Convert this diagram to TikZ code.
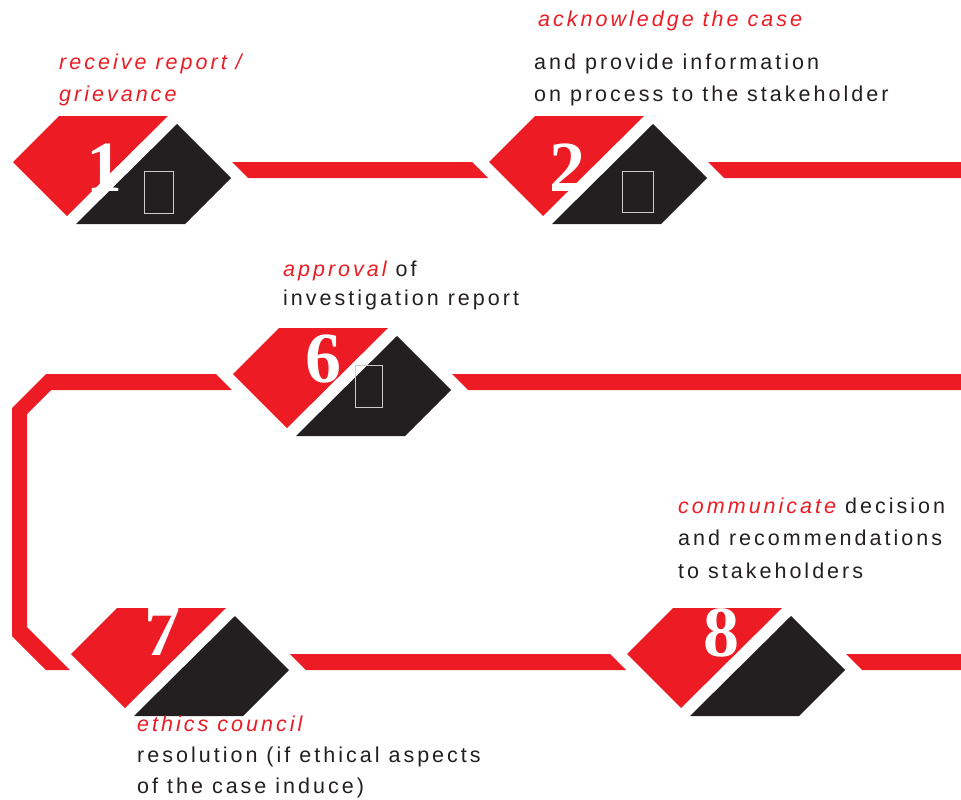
\documentclass[tikz,border=0pt]{standalone}
\usepackage{fontspec}
\setmainfont{Liberation Sans}[LetterSpace=14]
\newfontfamily\numfont{Liberation Serif}
\usetikzlibrary{calc}
\definecolor{stepred}{HTML}{ED1C24}
\definecolor{stepblack}{HTML}{231F20}
\tikzset{
  redpart/.style={fill=stepred},
  blackpart/.style={fill=stepblack},
  link/.style={fill=stepred},
  digit/.style={text=white, inner sep=0pt, font=\numfont\bfseries\fontsize{72}{72}\selectfont},
  tofu/.style={draw=white!80!black, line width=0.8pt},
  head/.style={anchor=base west, inner sep=0pt, text=stepred, align=left, font=\itshape\fontsize{21.5}{32}\selectfont},
  body/.style={anchor=base west, inner sep=0pt, text=stepblack, align=left, font=\fontsize{21.5}{32}\selectfont},
}

\begin{document}
\begin{tikzpicture}[x=1pt, y=-1pt]
    \useasboundingbox (0,0) rectangle (961,800);
    \coordinate (b1) at (122,170);
    \coordinate (b2) at (598,170);
    \coordinate (b6) at (342,382);
    \coordinate (b7) at (180,662);
    \coordinate (b8) at (736,662);
    % badges
    \foreach \b in {b1,b2,b6,b7,b8} {
      \fill[redpart] ($(\b)+(-109,-8)$) -- ($(\b)+(-63,-54)$) -- ($(\b)+(46,-54)$) -- ($(\b)+(-55,46)$) -- cycle;
      \fill[blackpart] ($(\b)+(109,8)$) -- ($(\b)+(63,54)$) -- ($(\b)+(-46,54)$) -- ($(\b)+(55,-46)$) -- cycle;
    }
    \foreach \b/\n/\dx/\dy in {b1/1/-18/-2, b2/2/-31/-2, b6/6/-19/-23, b7/7/-18/-30, b8/8/-15/-29}
      \node[digit] (n\n) at ($(\b)+(\dx,\dy)$) {\n};
    \foreach \b/\x/\y/\w/\h in {b1/22/1/29/42, b2/24/1/31/41, b6/13/-17/27/42}
      \draw[tofu] ($(\b)+(\x,\y)$) rectangle ++(\w,\h);
    % connectors
    \fill[link] ($(b1)+(110,-8)$) -- ($(b2)+(-126,-8)$) -- ($(b2)+(-110,8)$) -- ($(b1)+(126,8)$) -- cycle;
    \fill[link] ($(b7)+(110,-8)$) -- ($(b8)+(-126,-8)$) -- ($(b8)+(-110,8)$) -- ($(b7)+(126,8)$) -- cycle;
    \foreach \b in {b2,b6,b8}
      \fill[link] ($(\b)+(110,-8)$) -- ($(\b)+(620,-8)$) -- ($(\b)+(620,8)$) -- ($(\b)+(126,8)$) -- cycle;
    \fill[link] ($(b6)+(-126,-8)$) -- (46,374) -- (12,408) -- (12,636) -- (46,670)
      -- ($(b7)+(-110,8)$) -- ($(b7)+(-126,-8)$) -- (27,627) -- (27,414) -- (51,390)
      -- ($(b6)+(-110,8)$) -- cycle;
    % texts (placed at the baseline of their last line)
    \node[head] (t1) at (59,101) {receive report /\\grievance};
    \node[head] (t2h) at (538,27) {acknowledge the case};
    \node[body] (t2) at (534,101) {and provide information\\on process to the stakeholder};
    \node[body, font=\fontsize{21.5}{29}\selectfont] (t6) at (283,305) {\textcolor{stepred}{\itshape approval} of\\investigation report};
    \node[body, font=\fontsize{21.5}{32.5}\selectfont] (t8) at (678,578) {\textcolor{stepred}{\itshape communicate} decision\\and recommendations\\to stakeholders};
    \node[body, font=\fontsize{21.5}{31}\selectfont] (t7) at (137,793) {\textcolor{stepred}{\itshape ethics council}\\resolution (if ethical aspects\\of the case induce)};
\end{tikzpicture}
\end{document}
